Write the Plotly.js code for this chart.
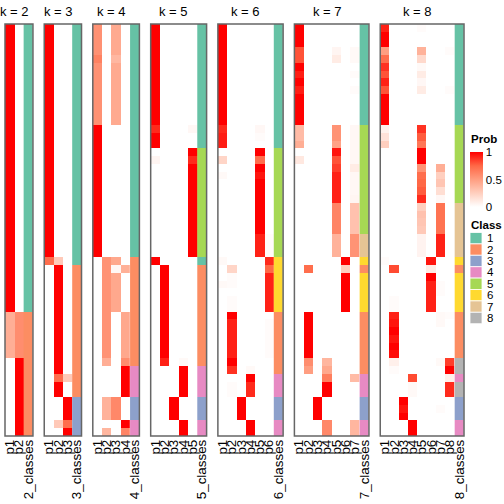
<!DOCTYPE html>
<html><head><meta charset="utf-8">
<script src="https://cdn.plot.ly/plotly-3.0.1.min.js"></script>
<style>html,body{margin:0;padding:0;background:#fff}#chart{width:504px;height:504px}</style>
</head><body><div id="chart"></div>
<script>
// ---------- data ----------
const ks = [2,3,4,5,6,7,8];
const classNames = ['1','2','3','4','5','6','7','8'];
const classColors = ['#66C2A5','#FC8D62','#8DA0CB','#E78AC3','#A6D854','#FFD92F','#E5C494','#B3B3B3'];
const probTickVals = [0, 0.5, 1];
const probTickText = ['0', '0.5', '1'];

const k2_p1 = [1,1,1,1,1,1,1,1,1,1, 1,1,1,1,1,1,1,1,1,1, 1,1,1,1,1,1,1,1,1,1, 1,1,1,1,1,1,1,.42,.42,.42, .42,.42,.42,0,0,0,0,0,0,0, 0,0,0];
const k2_p2 = [0,0,0,0,0,0,0,0,0,0, 0,0,0,0,0,0,0,0,0,0, 0,0,0,0,0,0,0,0,0,0, 0,0,0,0,0,0,0,.58,.58,.58, .58,.58,.58,1,1,1,1,1,1,1, 1,1,1];
const k2_cls = [1,1,1,1,1,1,1,1,1,1, 1,1,1,1,1,1,1,1,1,1, 1,1,1,1,1,1,1,1,1,1, 1,1,1,1,1,1,1,2,2,2, 2,2,2,2,2,2,2,2,2,2, 2,2,2];

const k3_p1 = [1,1,1,1,1,1,1,1,1,1, 1,1,1,1,1,1,1,1,1,1, 1,1,1,1,1,1,1,1,1,1, .72,0,0,0,0,0,0,0,0,0, 0,0,0,0,0,0,0,0,0,0, 0,0,0];
const k3_p2 = [0,0,0,0,0,0,0,0,0,0, 0,0,0,0,0,0,0,0,0,0, 0,0,0,0,0,0,0,0,0,0, .28,1,1,1,1,1,1,1,1,1, 1,1,1,1,1,.72,1,1,0,0, 0,.28,0];
const k3_p3 = [0,0,0,0,0,0,0,0,0,0, 0,0,0,0,0,0,0,0,0,0, 0,0,0,0,0,0,0,0,0,0, 0,0,0,0,0,0,0,0,0,0, 0,0,0,0,0,.28,0,0,1,1, 1,.72,1];
const k3_cls = [1,1,1,1,1,1,1,1,1,1, 1,1,1,1,1,1,1,1,1,1, 1,1,1,1,1,1,1,1,1,1, 1,2,2,2,2,2,2,2,2,2, 2,2,2,2,2,2,2,2,3,3, 3,3,3];

const k4_p1 = [.56,.56,.56,.56,.63,.56,.56,.56,.56,.56, .56,.56,.56,1,1,1,1,1,1,1, 1,1,1,1,1,1,1,1,1,1, 0,0,0,0,0,0,0,0,0,0, 0,0,0,0,0,0,0,0,0,0, 0,0,0];
const k4_p2 = [0,0,0,0,0,0,0,0,0,0, 0,0,0,0,0,0,0,0,0,0, 0,0,0,0,0,0,0,0,0,0, .55,.55,.55,.55,.55,.55,.55,.55,.55,.55, .55,.55,.55,.42,0,0,0,0,.4,.4, .4,0,.38];
const k4_p3 = [.44,.44,.44,.44,.37,.44,.44,.44,.44,.44, .44,.44,.44,0,0,0,0,0,0,0, 0,0,0,0,0,0,0,0,0,0, .45,.04,.45,.45,.45,.45,.45,0,0,0, 0,0,0,0,0,0,0,0,.6,.6, .6,0,0];
const k4_p4 = [0,0,0,0,0,0,0,0,0,0, 0,0,0,0,0,0,0,0,0,0, 0,0,0,0,0,0,0,0,0,0, 0,.41,0,0,0,0,0,.45,.45,.45, .45,.45,.45,.58,1,1,1,1,0,0, 0,1,.62];
const k4_cls = [1,1,1,1,1,1,1,1,1,1, 1,1,1,1,1,1,1,1,1,1, 1,1,1,1,1,1,1,1,1,1, 2,2,2,2,2,2,2,2,2,2, 2,2,2,2,4,4,4,4,3,3, 3,4,4];

const k5_p1 = [1,1,1,1,1,1,1,1,1,1, 1,1,1,.9,1,1,0,.05,0,0, 0,0,0,0,0,0,0,0,0,0, 1,0,0,0,0,0,0,0,0,0, 0,0,0,0,0,0,0,0,0,0, 0,0,0];
const k5_p2 = [0,0,0,0,0,0,0,0,0,0, 0,0,0,0,0,0,0,0,0,0, 0,0,0,0,0,0,0,0,0,0, 0,1,1,1,1,1,1,1,1,1, 1,1,1,.92,0,0,0,0,0,0, 0,0,0];
const k5_p3 = [0,0,0,0,0,0,0,0,0,0, 0,0,0,0,0,0,0,0,0,0, 0,0,0,0,0,0,0,0,0,0, 0,0,0,0,0,0,0,0,0,0, 0,0,0,0,0,0,0,0,1,1, 1,0,0];
const k5_p4 = [0,0,0,0,0,0,0,0,0,0, 0,0,0,0,0,0,0,0,0,0, 0,0,0,0,0,0,0,0,0,0, 0,0,0,0,0,0,0,0,0,0, 0,0,0,.03,1,1,1,1,0,0, 0,1,1];
const k5_p5 = [0,0,0,0,0,0,0,0,0,0, 0,0,0,.04,0,0,1,.9,1,1, 1,1,1,1,1,1,1,1,1,1, 0,0,0,0,0,0,0,0,0,0, 0,0,0,0,0,0,0,0,0,0, 0,0,0];
const k5_cls = [1,1,1,1,1,1,1,1,1,1, 1,1,1,1,1,1,5,5,5,5, 5,5,5,5,5,5,5,5,5,5, 1,2,2,2,2,2,2,2,2,2, 2,2,2,2,4,4,4,4,3,3, 3,4,4];

const k6_p1 = [1,1,1,1,1,1,1,1,1,1, 1,1,1,.9,.93,.93,0,.22,0,.03, 0,0,0,0,0,0,0,0,0,0, .03,0,0,.03,0,0,0,0,0,0, 0,0,0,0,0,0,0,0,0,0, 0,0,0];
const k6_p2 = [0,0,0,0,0,0,0,0,0,0, 0,0,0,0,0,0,0,0,0,0, 0,0,0,0,0,0,0,0,0,0, 0,.22,.02,.02,0,.02,.02,1,.92,.92, .92,.92,.92,1,.88,0,.02,.02,0,0, 0,0,0];
const k6_p3 = [0,0,0,0,0,0,0,0,0,0, 0,0,0,0,0,0,0,0,0,0, 0,0,0,0,0,0,0,0,0,0, 0,0,0,0,0,0,0,0,0,0, 0,0,0,0,0,0,0,0,1,1, 1,0,0];
const k6_p4 = [0,0,0,0,0,0,0,0,0,0, 0,0,0,0,0,0,0,0,0,0, 0,0,0,0,0,0,0,0,0,0, 0,0,0,0,0,0,0,0,0,0, 0,0,0,0,.03,1,.9,.9,0,0, 0,1,1];
const k6_p5 = [0,0,0,0,0,0,0,0,0,0, 0,0,0,.04,.02,0,1,.72,1,.95, 1,1,1,1,1,1,1,.92,.92,.92, 0,0,0,0,0,0,0,0,0,0, 0,0,0,0,0,0,0,0,0,0, 0,0,0];
const k6_p6 = [0,0,0,0,0,0,0,0,0,0, 0,0,0,0,0,0,0,0,0,0, 0,0,0,0,0,0,0,.02,.02,.02, .9,.75,.92,.92,.92,.92,.92,0,.02,.02, .02,.02,.02,0,0,0,0,0,0,0, 0,0,0];
const k6_cls = [1,1,1,1,1,1,1,1,1,1, 1,1,1,1,1,1,5,5,5,5, 5,5,5,5,5,5,5,5,5,5, 6,6,6,6,6,6,6,2,2,2, 2,2,2,2,2,4,4,4,3,3, 3,4,4];

const k7_p1 = [1,1,1,.8,.8,1,.93,1,.93,1, 1,1,1,.35,.35,.42,0,.12,0,0, 0,0,0,0,0,0,0,0,0,0, 0,0,0,0,0,0,0,0,0,0, 0,0,0,0,0,0,0,0,0,0, 0,0,0];
const k7_p2 = [0,0,0,0,0,0,0,0,0,0, 0,0,0,0,0,0,0,0,0,0, 0,0,0,0,0,0,0,0,0,0, 0,.72,0,0,0,0,0,1,1,1, 1,1,1,.58,.5,0,0,0,0,0, 0,0,0];
const k7_p3 = [0,0,0,0,0,0,0,0,0,0, 0,0,0,0,0,0,0,0,0,0, 0,0,0,0,0,0,0,0,0,0, 0,0,0,0,0,0,0,0,0,0, 0,0,0,0,0,0,0,0,1,1, 1,0,0];
const k7_p4 = [0,0,0,0,0,0,0,0,0,0, 0,0,0,0,0,0,0,0,0,0, 0,0,0,0,0,0,0,0,0,0, 0,0,0,0,0,0,0,0,0,0, 0,0,0,.38,.45,.65,1,1,0,0, 0,.6,.6];
const k7_p5 = [0,0,0,.05,.1,0,0,0,0,0, 0,0,0,.55,.55,.48,.95,.8,.85,.92, .92,.92,.92,.62,.62,.62,.62,.4,.4,.4, 0,0,0,0,0,0,0,0,0,0, 0,0,0,0,0,0,0,0,0,0, 0,0,0];
const k7_p6 = [0,0,0,0,0,0,0,0,0,0, 0,0,0,0,0,0,0,0,0,0, 0,0,0,0,0,0,0,0,0,0, 1,.25,1,1,1,1,1,0,0,0, 0,0,0,0,0,0,0,0,0,0, 0,0,0];
const k7_p7 = [0,0,0,.03,.03,0,.02,0,.02,0, 0,0,0,.04,.04,.04,.04,.04,.1,.04, .04,.04,.05,.32,.32,.32,.32,.55,.55,.55, 0,0,0,0,0,0,0,0,0,0, 0,0,0,0,0,.35,0,0,0,0, 0,.38,.38];
const k7_cls = [1,1,1,1,1,1,1,1,1,1, 1,1,1,5,5,5,5,5,5,5, 5,5,5,5,5,5,5,7,7,7, 6,2,6,6,6,6,6,2,2,2, 2,2,2,2,2,4,4,4,3,3, 3,4,4];

const k8_p1 = [.92,1,1,.5,.72,.88,.8,.92,.8,1, 1,1,1,.07,.15,.25,0,0,0,0, 0,0,0,0,0,0,0,0,0,0, .02,0,0,0,0,0,0,0,0,0, 0,0,0,0,0,0,0,0,0,0, 0,0,0];
const k8_p2 = [0,0,0,0,0,0,0,0,0,0, 0,0,0,0,0,0,0,0,0,0, 0,0,0,0,0,0,0,0,0,0, 0,.82,0,0,0,.02,.02,.92,.95,1, .95,1,.97,.08,.02,0,0,0,0,0, 0,0,0];
const k8_p3 = [0,0,0,0,0,0,0,0,0,0, 0,0,0,0,0,0,0,0,0,0, 0,0,0,0,0,0,0,0,0,0, 0,0,0,0,0,0,0,0,0,0, 0,0,0,0,0,0,0,0,1,.95, 1,0,0];
const k8_p4 = [0,0,0,0,0,0,0,0,0,0, 0,0,0,0,0,0,0,0,0,0, 0,0,0,0,0,0,0,0,0,0, 0,0,0,0,0,0,0,0,0,0, 0,0,0,0,0,.82,.03,.03,0,0, 0,1,1];
const k8_p5 = [.02,0,0,.4,.2,.03,.1,.04,.1,0, 0,0,0,.88,.78,.68,1,1,.55,.72, .75,.78,.9,.25,.32,.3,.28,.06,.06,.06, 0,0,0,0,0,0,0,0,0,0, 0,0,0,0,0,0,0,0,0,0, 0,0,0];
const k8_p6 = [0,0,0,0,0,0,0,0,0,0, 0,0,0,0,0,0,0,0,0,0, 0,0,0,0,0,0,0,0,0,0, .95,.1,1,.92,.92,.92,.92,0,0,0, 0,0,0,0,0,0,0,0,0,0, 0,0,0];
const k8_p7 = [0,0,0,0,0,0,0,0,0,0, 0,0,0,0,0,0,0,0,.42,.25, .3,.17,.04,.7,.7,.7,.7,.92,.92,.92, 0,0,0,.02,.02,0,0,.03,.03,0, 0,0,0,.03,0,0,0,0,0,.02, 0,0,0];
const k8_p8 = [0,0,0,.02,0,0,0,0,.02,0, 0,0,0,0,0,0,0,0,0,0, 0,0,0,0,0,0,0,0,0,0, 0,0,0,0,0,0,0,.02,0,0, 0,0,0,.85,1,.08,.9,.9,0,0, 0,0,0];
const k8_cls = [1,1,1,1,1,1,1,1,1,1, 1,1,1,5,5,5,5,5,5,5, 5,5,5,7,7,7,7,7,7,7, 6,2,6,6,6,6,6,2,2,2, 2,2,2,8,8,4,8,8,3,3, 3,4,4];

const probCols = {
  2:[k2_p1,k2_p2], 3:[k3_p1,k3_p2,k3_p3], 4:[k4_p1,k4_p2,k4_p3,k4_p4],
  5:[k5_p1,k5_p2,k5_p3,k5_p4,k5_p5], 6:[k6_p1,k6_p2,k6_p3,k6_p4,k6_p5,k6_p6],
  7:[k7_p1,k7_p2,k7_p3,k7_p4,k7_p5,k7_p6,k7_p7], 8:[k8_p1,k8_p2,k8_p3,k8_p4,k8_p5,k8_p6,k8_p7,k8_p8]
};
const classCols = {2:k2_cls,3:k3_cls,4:k4_cls,5:k5_cls,6:k6_cls,7:k7_cls,8:k8_cls};

// ---------- layout helpers ----------
const W=504, H=504, ML=5, MR=40, MT=24, MB=68;
const PW=W-ML-MR, PH=H-MT-MB;
const px2x = px => (px-ML)/PW;
const py2y = py => (H-MB-py)/PH;
const FONT = 'Liberation Sans, Arial, sans-serif';
const CW = 9.32, GAP = 11.28;

const probScale = [[0,'rgb(255,255,255)'],[0.25,'rgb(255,207,191)'],[0.5,'rgb(255,158,129)'],[0.75,'rgb(255,104,70)'],[1,'rgb(255,0,0)']];
const classScale = [];
classColors.forEach((c,i)=>{ classScale.push([i/8,c]); classScale.push([(i+1)/8,c]); });

const nRows = k2_cls.length;
const rowIdx = Array.from({length:nRows},(_,i)=>i);

const traces = [], layout = {
  width:W, height:H, margin:{l:ML,r:MR,t:MT,b:MB,pad:0},
  paper_bgcolor:'#fff', plot_bgcolor:'#fff', showlegend:false,
  font:{family:FONT, size:12, color:'#000'},
  yaxis:{range:[nRows-0.5,-0.5], visible:false, fixedrange:true},
  shapes:[], annotations:[]
};

let start = ML;
ks.forEach((k,i)=>{
  const n = i+1;
  const xa = n===1 ? 'x' : 'x'+n;
  const axKey = n===1 ? 'xaxis' : 'xaxis'+n;
  const w = (k+1)*CW;
  const d0 = Math.max(0,px2x(start)), d1 = Math.min(1,px2x(start+w));
  start += w + GAP;
  const pNames = Array.from({length:k},(_,j)=>'p'+(j+1));
  const cName = k+'_classes';
  const pIdx = pNames.map((_,j)=>j);
  layout[axKey] = {
    domain:[d0,d1], anchor:'y', type:'linear', range:[-0.5,k+0.5],
    tickmode:'array', tickvals:[...pIdx, k], ticktext:[...pNames, cName],
    showgrid:false, zeroline:false, showline:false, ticks:'', tickangle:-90,
    tickfont:{size:13.4, color:'#000', family:FONT}, fixedrange:true
  };
  const cols = probCols[k];
  const z = rowIdx.map(r=>cols.map(c=>c[r]));
  const tr = {
    type:'heatmap', x:pIdx, y:rowIdx, z:z, xaxis:xa, yaxis:'y',
    zmin:0, zmax:1, colorscale:probScale, zsmooth:false, hoverinfo:'skip',
    showscale: i===0
  };
  if(i===0){
    tr.colorbar = {
      x:px2x(470), xanchor:'left', xpad:0, ypad:0,
      y:py2y(207), yanchor:'bottom', len:55, lenmode:'pixels',
      thickness:13, thicknessmode:'pixels', outlinewidth:0,
      tickvals:probTickVals, ticktext:probTickText, ticks:'',
      tickfont:{size:11.5, family:FONT, color:'#000'}
    };
  }
  traces.push(tr);
  traces.push({
    type:'heatmap', x0:k, dx:1, y:rowIdx, z:classCols[k].map(v=>[v]), xaxis:xa, yaxis:'y',
    zmin:0.5, zmax:8.5, colorscale:classScale, zsmooth:false, showscale:false, hoverinfo:'skip'
  });
  layout.shapes.push({type:'rect', xref:xa+' domain', yref:'y domain', x0:0, x1:1, y0:0, y1:1,
    line:{color:'#666', width:1.5}, fillcolor:'rgba(0,0,0,0)', layer:'above'});
  layout.annotations.push({text:'k = '+k, xref:xa+' domain', x:(k/2)/(k+1), yref:'paper', y:1,
    yanchor:'bottom', yshift:3, showarrow:false, font:{size:13, family:FONT, color:'#000'}});
});

// Prob legend title
layout.annotations.push({text:'<b>Prob</b>', xref:'paper', yref:'paper', x:px2x(469), y:py2y(139),
  xanchor:'left', yanchor:'middle', showarrow:false, font:{size:11.5, family:FONT, color:'#000'}});
// Class legend
layout.annotations.push({text:'<b>Class</b>', xref:'paper', yref:'paper', x:px2x(469), y:py2y(225),
  xanchor:'left', yanchor:'middle', showarrow:false, font:{size:11.5, family:FONT, color:'#000'}});
const STEP = 11.4;
classNames.forEach((nm,i)=>{
  const top = 232.5 + STEP*i;
  layout.shapes.push({type:'rect', xref:'paper', yref:'paper', x0:px2x(470), x1:px2x(482),
    y0:py2y(top+STEP), y1:py2y(top), fillcolor:classColors[i], line:{color:'#fff', width:0.8}});
  layout.annotations.push({text:nm, xref:'paper', yref:'paper', x:px2x(485), y:py2y(top+STEP/2),
    xanchor:'left', yanchor:'middle', showarrow:false, font:{size:11.5, family:FONT, color:'#000'}});
});

Plotly.newPlot('chart', traces, layout, {staticPlot:true, displayModeBar:false});
</script>
</body></html>
